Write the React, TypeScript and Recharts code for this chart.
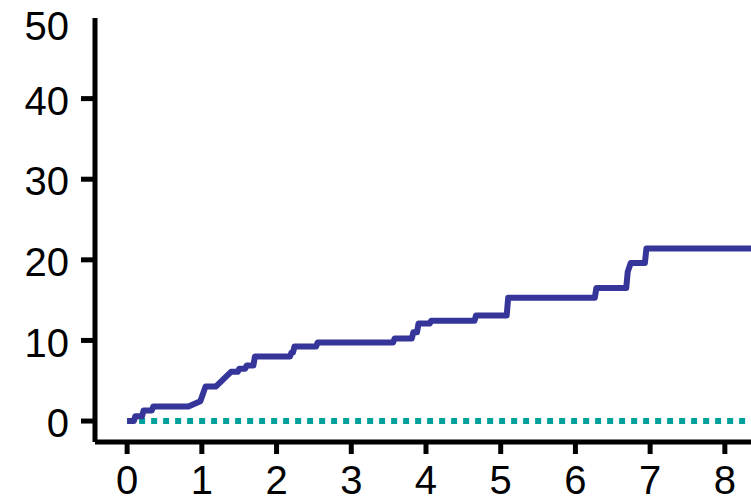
import { LineChart, Line, XAxis, YAxis } from 'recharts'

// cumulative incidence curve
const stepTimes = [
  0, 0.09, 0.11, 0.2, 0.22, 0.33, 0.35, 0.82, 0.98, 1.05, 1.19, 1.39, 1.48, 1.5, 1.58, 1.6,
  1.69, 1.71, 2.18, 2.2, 2.22, 2.24, 2.53, 2.55, 3.56, 3.58, 3.81, 3.83, 3.88, 3.9, 4.05,
  4.07, 4.65, 4.67, 5.08, 5.1, 6.26, 6.28, 6.68, 6.7, 6.74, 6.93, 6.95, 8.6,
]
const stepValues = [
  0, 0, 0.6, 0.6, 1.3, 1.3, 1.8, 1.8, 2.45, 4.3, 4.3, 6.1, 6.1, 6.5, 6.5, 6.9,
  6.9, 8.0, 8.0, 8.5, 8.5, 9.25, 9.25, 9.75, 9.75, 10.25, 10.25, 11.0, 11.0, 12.1, 12.1,
  12.45, 12.45, 13.1, 13.1, 15.3, 15.3, 16.5, 16.5, 18.5, 19.6, 19.6, 21.4, 21.4,
]

// flat reference group
const flatTimes = [0, 8.6]
const flatValues = [0, 0]

const xTicks = [0, 1, 2, 3, 4, 5, 6, 7, 8]
const yTicks = [0, 10, 20, 30, 40, 50]

const stepData = stepTimes.map((t, i) => ({ t, v: stepValues[i] }))
const flatData = flatTimes.map((t, i) => ({ t, v: flatValues[i] }))

const FONT = '"Liberation Sans", Arial, sans-serif'

const YTick = (props: any) => {
  const { x, y, payload } = props
  const top = payload.value === 50
  return (
    <g>
      {!top && <line x1={x + 12} x2={x + 26} y1={y} y2={y} stroke="#000" strokeWidth={5} />}
      <text
        x={x}
        y={top ? y + 8 : y + 2}
        dy="0.355em"
        textAnchor="end"
        fontSize={40}
        fontFamily={FONT}
        fill="#000"
      >
        {payload.value}
      </text>
    </g>
  )
}

export default function App() {
  return (
    <div style={{ position: 'absolute', left: 0, top: 0, background: '#fff' }}>
      <LineChart width={751} height={502} margin={{ top: 18, right: 0, bottom: 0, left: 0 }}>
        <XAxis
          type="number"
          dataKey="t"
          domain={[-0.43, 8.35]}
          allowDataOverflow
          ticks={xTicks}
          height={60}
          tickSize={12}
          tickMargin={12}
          axisLine={{ stroke: '#000', strokeWidth: 5 }}
          tickLine={{ stroke: '#000', strokeWidth: 5 }}
          tick={{ fill: '#000', fontSize: 40, fontFamily: FONT }}
        />
        <YAxis
          type="number"
          dataKey="v"
          domain={[-2.6, 50]}
          allowDataOverflow
          ticks={yTicks}
          width={95}
          tickSize={14}
          tickMargin={12}
          axisLine={{ stroke: '#000', strokeWidth: 5 }}
          tickLine={false}
          tick={<YTick />}
        />
        <Line
          data={flatData}
          dataKey="v"
          type="linear"
          stroke="#00a19a"
          strokeWidth={6}
          strokeDasharray="6 6"
          dot={false}
          isAnimationActive={false}
        />
        <Line
          data={stepData}
          dataKey="v"
          type="linear"
          stroke="#35359a"
          strokeWidth={6}
          strokeLinejoin="round"
          dot={false}
          isAnimationActive={false}
        />
      </LineChart>
    </div>
  )
}
